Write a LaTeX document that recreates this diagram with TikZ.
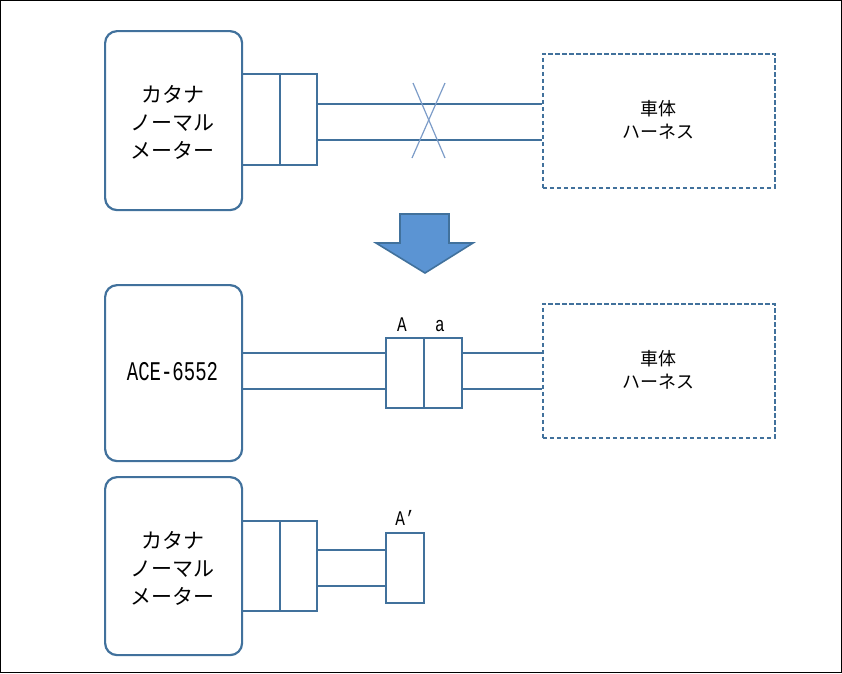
\documentclass[tikz,border=0pt]{standalone}
\usepackage{fontspec}
\setmainfont{Noto Sans CJK JP}
\newfontfamily\jpfont{Noto Sans CJK JP}
\newfontfamily\monofont{Liberation Mono}
\definecolor{linec}{HTML}{41719C}
\definecolor{crossc}{HTML}{7C9CC8}
\definecolor{arrowf}{HTML}{5B94D3}
\begin{document}
\begin{tikzpicture}[x=1pt,y=-1pt,line width=1.8pt,
  meter/.style={draw=linec,rounded corners=12pt,line width=2.2pt},
  cell/.style={draw=linec,line width=1.8pt},
  harness/.style={draw=linec,dash pattern=on 4.5pt off 2.5pt,line width=1.8pt},
  wire/.style={draw=linec,line width=1.8pt},
  lbl/.style={font=\jpfont\fontsize{21}{28}\selectfont,align=center,inner sep=0pt},
  hlbl/.style={font=\jpfont\fontsize{18}{23}\selectfont,align=center,inner sep=0pt},
  mono/.style={font=\monofont\fontsize{20}{20}\selectfont,inner sep=0pt}]
\useasboundingbox (0,0) rectangle (842,673);
\draw[black,line width=1pt] (0.5,0.5) rectangle (841.5,672.5);

% ---- top ----
\node[meter,minimum width=137pt,minimum height=179pt,anchor=north west] (m1) at (104,30) {};
\node[lbl] (m1t) at (172.5,122) {カタナ\\ノーマル\\メーター};
\node[cell,minimum width=38pt,minimum height=91pt,anchor=north west,inner sep=0pt] (c1a) at (241,73) {};
\node[cell,minimum width=37pt,minimum height=91pt,anchor=north west,inner sep=0pt] (c1b) at (279,73) {};
\node[harness,minimum width=232pt,minimum height=134pt,anchor=north west,inner sep=0pt] (h1) at (542,53) {};
\node[hlbl] (h1t) at (658,120) {車体\\ハーネス};
\coordinate (w1a) at (316,104);
\coordinate (w1b) at (316,140);
\draw[wire] (w1a) -- (w1a -| h1.west);
\draw[wire] (w1b) -- (w1b -| h1.west);
\coordinate (x1) at (413,83);
\coordinate (x2) at (445,158);
\coordinate (x3) at (445,83);
\coordinate (x4) at (412,158);
\draw[crossc,line width=1.2pt] (x1) -- (x2);
\draw[crossc,line width=1.2pt] (x3) -- (x4);

% ---- arrow ----
\coordinate (ar1) at (400,214);
\coordinate (ar2) at (449,214);
\coordinate (ar3) at (449,243);
\coordinate (ar4) at (473,243);
\coordinate (ar5) at (425,273);
\coordinate (ar6) at (376,243);
\coordinate (ar7) at (400,243);
\draw[fill=arrowf,draw=linec,line width=1.6pt,line join=miter] (ar1) -- (ar2) -- (ar3) -- (ar4) -- (ar5) -- (ar6) -- (ar7) -- cycle;

% ---- middle ----
\node[meter,minimum width=137pt,minimum height=176pt,anchor=north west] (m2) at (104,284) {};
\node[mono] (m2t) at (172.5,372) {\scalebox{0.95}[1.35]{ACE-6552}};
\node[cell,minimum width=38pt,minimum height=70pt,anchor=north west,inner sep=0pt] (cA) at (385,337) {};
\node[cell,minimum width=38pt,minimum height=70pt,anchor=north west,inner sep=0pt] (ca) at (423,337) {};
\node[mono,font=\monofont\fontsize{16}{16}\selectfont] (lA) at (402,325) {\scalebox{1}[1.3]{A}};
\node[mono,font=\monofont\fontsize{16}{16}\selectfont] (la) at (440,326) {\scalebox{1}[1.3]{a}};
\node[harness,minimum width=232pt,minimum height=134pt,anchor=north west,inner sep=0pt] (h2) at (542,303) {};
\node[hlbl] (h2t) at (658,370) {車体\\ハーネス};
\coordinate (w2a) at (241,353);
\coordinate (w2b) at (241,389);
\draw[wire] (w2a) -- (w2a -| cA.west);
\draw[wire] (w2b) -- (w2b -| cA.west);
\draw[wire] (w2a -| ca.east) -- (w2a -| h2.west);
\draw[wire] (w2b -| ca.east) -- (w2b -| h2.west);

% ---- bottom ----
\node[meter,minimum width=137pt,minimum height=178pt,anchor=north west] (m3) at (104,476) {};
\node[lbl] (m3t) at (172.5,568) {カタナ\\ノーマル\\メーター};
\node[cell,minimum width=38pt,minimum height=90pt,anchor=north west,inner sep=0pt] (c3a) at (241,520) {};
\node[cell,minimum width=37pt,minimum height=90pt,anchor=north west,inner sep=0pt] (c3b) at (279,520) {};
\node[cell,minimum width=38pt,minimum height=70pt,anchor=north west,inner sep=0pt] (cAp) at (385,532) {};
\node[mono,font=\monofont\fontsize{16}{16}\selectfont] (lAp) at (405,518) {\scalebox{1}[1.3]{A’}};
\coordinate (w3a) at (316,550);
\coordinate (w3b) at (316,586);
\draw[wire] (w3a) -- (w3a -| cAp.west);
\draw[wire] (w3b) -- (w3b -| cAp.west);
\end{tikzpicture}
\end{document}
